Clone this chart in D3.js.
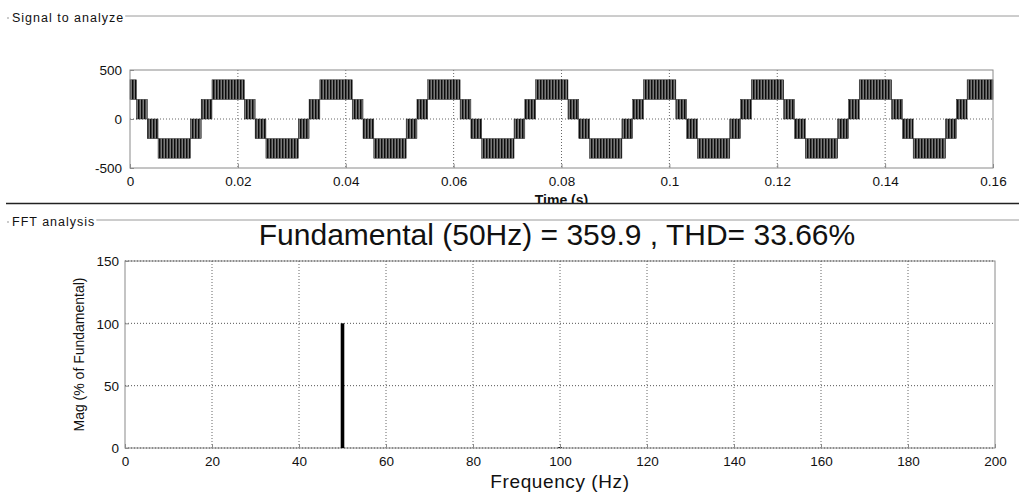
<!DOCTYPE html>
<html>
<head>
<meta charset="utf-8">
<script src="https://cdn.jsdelivr.net/npm/d3@7"></script>
<style>
  body { margin: 0; background: #fff; }
  svg { display: block; }
  text { font-family: "Liberation Sans", Arial, Helvetica, sans-serif; fill: #111; }
</style>
</head>
<body>
<svg id="chart" width="1019" height="498"></svg>
<script>
// ---- Signal to analyze: 5-level PWM inverter output ----
// Instants (s) where the output moves from one switching band to the next.
const switchTimes = [
  0, 0.0012, 0.0032, 0.0052, 0.0112, 0.0132, 0.0152,
  0.0212, 0.0232, 0.0252, 0.0312, 0.0332, 0.0352,
  0.0412, 0.0432, 0.0452, 0.0512, 0.0532, 0.0552,
  0.0612, 0.0632, 0.0652, 0.0712, 0.0732, 0.0752,
  0.0812, 0.0832, 0.0852, 0.0912, 0.0932, 0.0952,
  0.1012, 0.1032, 0.1052, 0.1112, 0.1132, 0.1152,
  0.1212, 0.1232, 0.1252, 0.1312, 0.1332, 0.1352,
  0.1412, 0.1432, 0.1452, 0.1512, 0.1532, 0.1552,
  0.16
];
// Voltage bands the output chops between (V)
const bandRanges = [[-400, -200], [-200, 0], [0, 200], [200, 400]];
// Band used in each interval between consecutive switching instants
const bandIndex = [
  3,
  2, 1, 0, 1, 2, 3,
  2, 1, 0, 1, 2, 3,
  2, 1, 0, 1, 2, 3,
  2, 1, 0, 1, 2, 3,
  2, 1, 0, 1, 2, 3,
  2, 1, 0, 1, 2, 3,
  2, 1, 0, 1, 2, 3,
  2, 1, 0, 1, 2, 3
];
const timeTicks = [0, 0.02, 0.04, 0.06, 0.08, 0.1, 0.12, 0.14, 0.16];
const voltTicks = [-500, 0, 500];

// ---- FFT analysis ----
const harmonicFreq = [50, 100];
const harmonicMag = [100, 0.7];
const fundamentalHz = 50;
const fundamentalMag = 359.9;
const thdPercent = 33.66;
const freqTicks = [0, 20, 40, 60, 80, 100, 120, 140, 160, 180, 200];
const magTicks = [0, 50, 100, 150];

const svg = d3.select("#chart");
const font = '"Liberation Sans", Arial, Helvetica, sans-serif';

// Hatched fill giving the dense PWM pulse texture
const defs = svg.append("defs");
const pat = defs.append("pattern").attr("id", "pwm")
  .attr("patternUnits", "userSpaceOnUse").attr("width", 3).attr("height", 4);
pat.append("rect").attr("width", 3).attr("height", 4).attr("fill", "#555");
pat.append("rect").attr("x", 0).attr("width", 1.2).attr("height", 4).attr("fill", "#0c0c0c");
pat.append("rect").attr("x", 2.4).attr("width", 0.35).attr("height", 4).attr("fill", "#bbb");
defs.append("clipPath").attr("id", "timeLabelClip")
  .append("rect").attr("x", 0).attr("y", 0).attr("width", 1019).attr("height", 203);

// ---- Panel frames ----
function groupLabel(text, y) {
  svg.append("circle").attr("cx", 8).attr("cy", y + 2).attr("r", 0.8).attr("fill", "#888");
  const t = svg.append("text").attr("x", 12).attr("y", y + 6)
    .attr("font-size", 12.5).attr("letter-spacing", 1).attr("fill", "#222").text(text);
  const w = t.node().getComputedTextLength();
  svg.append("line").attr("x1", 12 + w + 1).attr("x2", 1019)
    .attr("y1", y).attr("y2", y).attr("stroke", "#9a9a9a").attr("stroke-width", 1);
}
groupLabel("Signal to analyze", 16);
groupLabel("FFT analysis", 220);

// plain hyphen for negative tick labels
const tickNum = d => String(+d.toFixed(2)).replace("\u2212", "-");

// ---- Time-domain plot ----
const sigBox = { x0: 130, x1: 993, y0: 70, y1: 168 };
const xT = d3.scaleLinear().domain([0, 0.16]).range([sigBox.x0, sigBox.x1]);
const yV = d3.scaleLinear().domain([-500, 500]).range([sigBox.y1, sigBox.y0]);

const gSig = svg.append("g");
// dotted grid
gSig.selectAll(".vg").data(timeTicks.slice(1, -1)).join("line")
  .attr("x1", d => xT(d)).attr("x2", d => xT(d))
  .attr("y1", sigBox.y0).attr("y2", sigBox.y1)
  .attr("stroke", "#666").attr("stroke-width", 1).attr("stroke-dasharray", "1,2");
gSig.selectAll(".hg").data([0]).join("line")
  .attr("x1", sigBox.x0).attr("x2", sigBox.x1)
  .attr("y1", d => yV(d)).attr("y2", d => yV(d))
  .attr("stroke", "#666").attr("stroke-width", 1).attr("stroke-dasharray", "1,2");

// PWM bands
const bands = bandIndex.map((b, i) => ({
  t0: switchTimes[i], t1: switchTimes[i + 1],
  lo: bandRanges[b][0], hi: bandRanges[b][1]
}));
gSig.selectAll(".band").data(bands).join("rect")
  .attr("x", d => xT(d.t0)).attr("width", d => xT(d.t1) - xT(d.t0))
  .attr("y", d => yV(d.hi)).attr("height", d => yV(d.lo) - yV(d.hi))
  .attr("fill", "url(#pwm)").attr("stroke", "#222").attr("stroke-width", 0.5);

// box
gSig.append("rect").attr("x", sigBox.x0).attr("y", sigBox.y0)
  .attr("width", sigBox.x1 - sigBox.x0).attr("height", sigBox.y1 - sigBox.y0)
  .attr("fill", "none").attr("stroke", "#8a8a8a").attr("stroke-width", 1);

// axes
const axTB = d3.axisBottom(xT).tickValues(timeTicks)
  .tickFormat(tickNum).tickSizeInner(-4).tickSizeOuter(0).tickPadding(8);
const gxt = svg.append("g").attr("transform", `translate(0,${sigBox.y1})`).call(axTB);
const axTL = d3.axisLeft(yV).tickValues(voltTicks).tickFormat(tickNum)
  .tickSizeInner(-4).tickSizeOuter(0).tickPadding(8);
const gyt = svg.append("g").attr("transform", `translate(${sigBox.x0},0)`).call(axTL);
[gxt, gyt].forEach(g => {
  g.select(".domain").remove();
  g.selectAll(".tick line").attr("stroke", "#8a8a8a");
  g.selectAll("text").attr("font-size", 13.5).attr("font-family", font).attr("fill", "#111");
});
gyt.selectAll("text").attr("dy", "0.35em");

svg.append("text").attr("x", (sigBox.x0 + sigBox.x1) / 2).attr("y", 205)
  .attr("text-anchor", "middle").attr("font-size", 14).attr("font-weight", "bold")
  .attr("clip-path", "url(#timeLabelClip)").text("Time (s)");

// separator between the two panels
svg.append("line").attr("x1", 6).attr("x2", 1019).attr("y1", 203.5).attr("y2", 203.5)
  .attr("stroke", "#222").attr("stroke-width", 1.6);

// ---- FFT plot ----
const fftBox = { x0: 125, x1: 995, y0: 261, y1: 448 };
const xF = d3.scaleLinear().domain([0, 200]).range([fftBox.x0, fftBox.x1]);
const yM = d3.scaleLinear().domain([0, 150]).range([fftBox.y1, fftBox.y0]);

svg.append("text").attr("x", 557).attr("y", 245).attr("text-anchor", "middle")
  .attr("font-size", 30)
  .text(`Fundamental (${fundamentalHz}Hz) = ${fundamentalMag} , THD= ${thdPercent}%`);

const gFft = svg.append("g");
gFft.append("rect").attr("x", fftBox.x0).attr("y", fftBox.y0)
  .attr("width", fftBox.x1 - fftBox.x0).attr("height", fftBox.y1 - fftBox.y0)
  .attr("fill", "none").attr("stroke", "#8a8a8a").attr("stroke-width", 1);
gFft.selectAll(".vg").data(freqTicks.slice(1, -1)).join("line")
  .attr("x1", d => xF(d)).attr("x2", d => xF(d))
  .attr("y1", fftBox.y0).attr("y2", fftBox.y1)
  .attr("stroke", "#666").attr("stroke-width", 1).attr("stroke-dasharray", "1,2");
gFft.selectAll(".hg").data(magTicks).join("line")
  .attr("x1", fftBox.x0).attr("x2", fftBox.x1)
  .attr("y1", d => yM(d)).attr("y2", d => yM(d))
  .attr("stroke", "#555").attr("stroke-width", 1).attr("stroke-dasharray", "1,2");

gFft.selectAll(".bar").data(harmonicFreq.map((f, i) => ({ f, m: harmonicMag[i] }))).join("rect")
  .attr("x", d => xF(d.f) - 1.8).attr("width", 3.6)
  .attr("y", d => yM(d.m)).attr("height", d => yM(0) - yM(d.m))
  .attr("fill", "#000");

const axFB = d3.axisBottom(xF).tickValues(freqTicks).tickSizeInner(-4).tickSizeOuter(0).tickPadding(8);
const gxf = svg.append("g").attr("transform", `translate(0,${fftBox.y1})`).call(axFB);
const axFL = d3.axisLeft(yM).tickValues(magTicks).tickSizeInner(-4).tickSizeOuter(0).tickPadding(6);
const gyf = svg.append("g").attr("transform", `translate(${fftBox.x0},0)`).call(axFL);
[gxf, gyf].forEach(g => {
  g.select(".domain").remove();
  g.selectAll(".tick line").attr("stroke", "#8a8a8a");
  g.selectAll("text").attr("font-size", 13.5).attr("font-family", font).attr("fill", "#111");
});
gyf.selectAll("text").attr("dy", "0.35em");

svg.append("text").attr("transform", `translate(84,${(fftBox.y0 + fftBox.y1) / 2}) rotate(-90)`)
  .attr("text-anchor", "middle").attr("font-size", 14).text("Mag (% of Fundamental)");

svg.append("text").attr("x", (fftBox.x0 + fftBox.x1) / 2).attr("y", 488)
  .attr("text-anchor", "middle").attr("font-size", 19).attr("letter-spacing", 0.6)
  .text("Frequency (Hz)");
</script>
</body>
</html>
